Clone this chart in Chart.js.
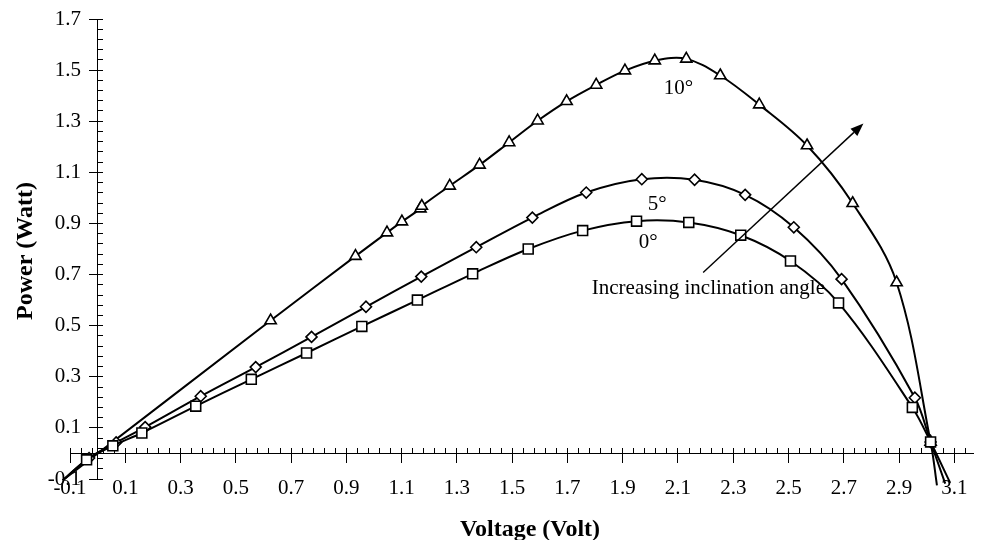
<!DOCTYPE html>
<html>
<head>
<meta charset="utf-8">
<title>Power - Voltage</title>
<script src="https://cdn.jsdelivr.net/npm/chart.js@4.4.1/dist/chart.umd.min.js"></script>
<style>
    html, body { margin: 0; padding: 0; background: #fff; }
    #wrap { width: 981px; height: 540px; position: relative; }
</style>
</head>
<body>
<div id="wrap"><canvas id="pvChart"></canvas></div>
<script>
// ====== DATOS ======
// first and last point of each series only carry the line beyond the markers

// 0° (squares)
const volt0 = [-0.126, -0.04, 0.055, 0.16, 0.355, 0.556, 0.756, 0.956, 1.157, 1.357, 1.558, 1.755, 1.95, 2.139, 2.327, 2.507, 2.681, 2.948, 3.014, 3.085];
const power0 = [-0.105, -0.025, 0.03, 0.08, 0.185, 0.29, 0.393, 0.497, 0.6, 0.703, 0.8, 0.872, 0.909, 0.904, 0.854, 0.753, 0.589, 0.18, 0.045, -0.115];

// 5° (diamonds)
const volt5 = [-0.126, -0.031, 0.067, 0.172, 0.373, 0.572, 0.774, 0.971, 1.171, 1.37, 1.573, 1.768, 1.969, 2.16, 2.343, 2.519, 2.692, 2.957, 3.014, 3.067];
const power5 = [-0.105, -0.018, 0.043, 0.103, 0.224, 0.338, 0.456, 0.574, 0.692, 0.807, 0.923, 1.021, 1.073, 1.071, 1.012, 0.885, 0.682, 0.218, 0.045, -0.118];

// 10° (triangles)
const volt10 = [-0.126, 0.626, 0.933, 1.047, 1.101, 1.168, 1.173, 1.274, 1.382, 1.489, 1.592, 1.697, 1.804, 1.908, 2.016, 2.13, 2.253, 2.394, 2.567, 2.732, 2.891, 3.014, 3.037];
const power10 = [-0.105, 0.52, 0.772, 0.864, 0.907, 0.958, 0.968, 1.047, 1.129, 1.217, 1.302, 1.378, 1.442, 1.498, 1.537, 1.544, 1.479, 1.365, 1.205, 0.979, 0.669, 0.045, -0.125];

// ejes
const xTickValues = [-0.1, 0.1, 0.3, 0.5, 0.7, 0.9, 1.1, 1.3, 1.5, 1.7, 1.9, 2.1, 2.3, 2.5, 2.7, 2.9, 3.1];
const xTickLabels = ['-0.1', '0.1', '0.3', '0.5', '0.7', '0.9', '1.1', '1.3', '1.5', '1.7', '1.9', '2.1', '2.3', '2.5', '2.7', '2.9', '3.1'];
const yTickValues = [-0.1, 0.1, 0.3, 0.5, 0.7, 0.9, 1.1, 1.3, 1.5, 1.7];
const yTickLabels = ['-0.1', '0.1', '0.3', '0.5', '0.7', '0.9', '1.1', '1.3', '1.5', '1.7'];

// anotaciones
const angleLabels = ['10°', '5°', '0°'];
const angleLabelVolt = [2.102, 2.025, 1.992];
const angleLabelPower = [1.428, 0.975, 0.826];
const arrowText = 'Increasing inclination angle';
const arrowTextAt = [2.21, 0.647];
const arrowFrom = [2.191, 0.708];
const arrowTo = [2.771, 1.291];

const X_MIN = -0.1, X_MAX = 3.17;
const Y_MIN = -0.1, Y_MAX = 1.7;
const MINOR_STEP = 0.04;
const Y_LABEL_X = -0.06;   // where the y tick labels end (left of the y axis)

const FONT = "'Liberation Serif', 'Times New Roman', serif";

function points(volts, powers) {
    return volts.map((v, i) => ({ x: v, y: powers[i] }));
}

function minorTicks(min, max, step) {
    const out = [];
    for (let v = min; v <= max + 1e-9; v += step) {
        out.push({ value: Math.round(v * 1000) / 1000 });
    }
    return out;
}

function fixedTicks(list) {
    return axis => { axis.ticks = list.map(v => ({ value: v })); };
}

// no marker on the extension points
function markerRadius(r) {
    return ctx => (ctx.dataIndex === 0 || ctx.dataIndex === ctx.dataset.data.length - 1) ? 0 : r;
}

function series(label, volts, powers, style, radius) {
    return {
        label: label,
        data: points(volts, powers),
        showLine: true,
        borderColor: '#000',
        borderWidth: 2,
        tension: 0.35,
        pointStyle: style,
        pointRadius: markerRadius(radius),
        pointHoverRadius: markerRadius(radius),
        pointBorderColor: '#000',
        pointBackgroundColor: '#fff',
        pointBorderWidth: 1.6,
        clip: { left: 8, top: 0, right: 0, bottom: 8 }
    };
}

// ====== TEXTOS Y FLECHA ======
const annotations = {
    id: 'annotations',
    afterDatasetsDraw(chart) {
        const { ctx } = chart;
        const x = chart.scales.x;
        const y = chart.scales.y;
        ctx.save();
        ctx.fillStyle = '#000';
        ctx.strokeStyle = '#000';

        ctx.font = '21px ' + FONT;
        ctx.textAlign = 'center';
        ctx.textBaseline = 'middle';
        angleLabels.forEach((t, i) => {
            ctx.fillText(t, x.getPixelForValue(angleLabelVolt[i]), y.getPixelForValue(angleLabelPower[i]));
        });
        ctx.fillText(arrowText, x.getPixelForValue(arrowTextAt[0]), y.getPixelForValue(arrowTextAt[1]));

        // flecha
        const x0 = x.getPixelForValue(arrowFrom[0]);
        const y0 = y.getPixelForValue(arrowFrom[1]);
        const x1 = x.getPixelForValue(arrowTo[0]);
        const y1 = y.getPixelForValue(arrowTo[1]);
        const ang = Math.atan2(y1 - y0, x1 - x0);
        const len = 13, half = 5;
        const bx = x1 - len * Math.cos(ang);
        const by = y1 - len * Math.sin(ang);
        ctx.lineWidth = 1.4;
        ctx.beginPath();
        ctx.moveTo(x0, y0);
        ctx.lineTo(bx, by);
        ctx.stroke();
        ctx.beginPath();
        ctx.moveTo(x1, y1);
        ctx.lineTo(bx + half * Math.sin(ang), by - half * Math.cos(ang));
        ctx.lineTo(bx - half * Math.sin(ang), by + half * Math.cos(ang));
        ctx.closePath();
        ctx.fill();

        // títulos de ejes
        ctx.font = 'bold 24px ' + FONT;
        ctx.textBaseline = 'alphabetic';
        ctx.fillText('Voltage (Volt)', 530, 536);
        ctx.translate(32, 251);
        ctx.rotate(-Math.PI / 2);
        ctx.fillText('Power (Watt)', 0, 0);
        ctx.restore();
    }
};

const tickFont = { family: FONT, size: 21 };

new Chart(document.getElementById('pvChart'), {
    type: 'scatter',
    data: {
        datasets: [
            series('0°', volt0, power0, 'rect', 7),
            series('5°', volt5, power5, 'rectRot', 5.5),
            series('10°', volt10, power10, 'triangle', 6.5)
        ]
    },
    options: {
        responsive: true,
        maintainAspectRatio: false,
        animation: false,
        layout: { padding: { left: 70, top: 19, right: 1, bottom: 61 } },
        elements: { line: { capBezierPoints: false } },
        plugins: {
            legend: { display: false },
            tooltip: { enabled: false }
        },
        scales: {
            x: {
                type: 'linear',
                position: { y: 0 },
                min: X_MIN,
                max: X_MAX,
                afterBuildTicks: fixedTicks(xTickValues),
                grid: { drawOnChartArea: false, tickLength: 9, color: '#000', lineWidth: 1 },
                border: { display: true, color: '#000', width: 1 },
                ticks: {
                    callback: (v, i) => xTickLabels[i],
                    font: tickFont,
                    color: '#000',
                    padding: 13.5,
                    maxRotation: 0,
                    autoSkip: false
                }
            },
            xMinor: {
                type: 'linear',
                axis: 'x',
                position: { y: 0 },
                min: X_MIN,
                max: X_MAX,
                afterBuildTicks: axis => { axis.ticks = minorTicks(X_MIN, X_MAX, MINOR_STEP); },
                grid: { drawOnChartArea: false, tickLength: -5, color: '#000', lineWidth: 1 },
                border: { display: false },
                ticks: { display: false }
            },
            y: {
                type: 'linear',
                position: { x: 0 },
                min: Y_MIN,
                max: Y_MAX,
                afterBuildTicks: fixedTicks(yTickValues),
                grid: { drawOnChartArea: false, tickLength: 8, color: '#000', lineWidth: 1 },
                border: { display: true, color: '#000', width: 1 },
                ticks: { display: false }
            },
            yMinor: {
                type: 'linear',
                axis: 'y',
                position: { x: 0 },
                min: Y_MIN,
                max: Y_MAX,
                afterBuildTicks: axis => { axis.ticks = minorTicks(Y_MIN, Y_MAX, MINOR_STEP); },
                grid: { drawOnChartArea: false, tickLength: -5, color: '#000', lineWidth: 1 },
                border: { display: false },
                ticks: { display: false }
            },
            yText: {
                type: 'linear',
                axis: 'y',
                position: { x: Y_LABEL_X },
                min: Y_MIN,
                max: Y_MAX,
                afterBuildTicks: fixedTicks(yTickValues),
                grid: { display: false, drawTicks: false },
                border: { display: false },
                ticks: {
                    callback: (v, i) => yTickLabels[i],
                    font: tickFont,
                    color: '#000',
                    padding: 0,
                    autoSkip: false
                }
            }
        }
    },
    plugins: [annotations]
});
</script>
</body>
</html>
